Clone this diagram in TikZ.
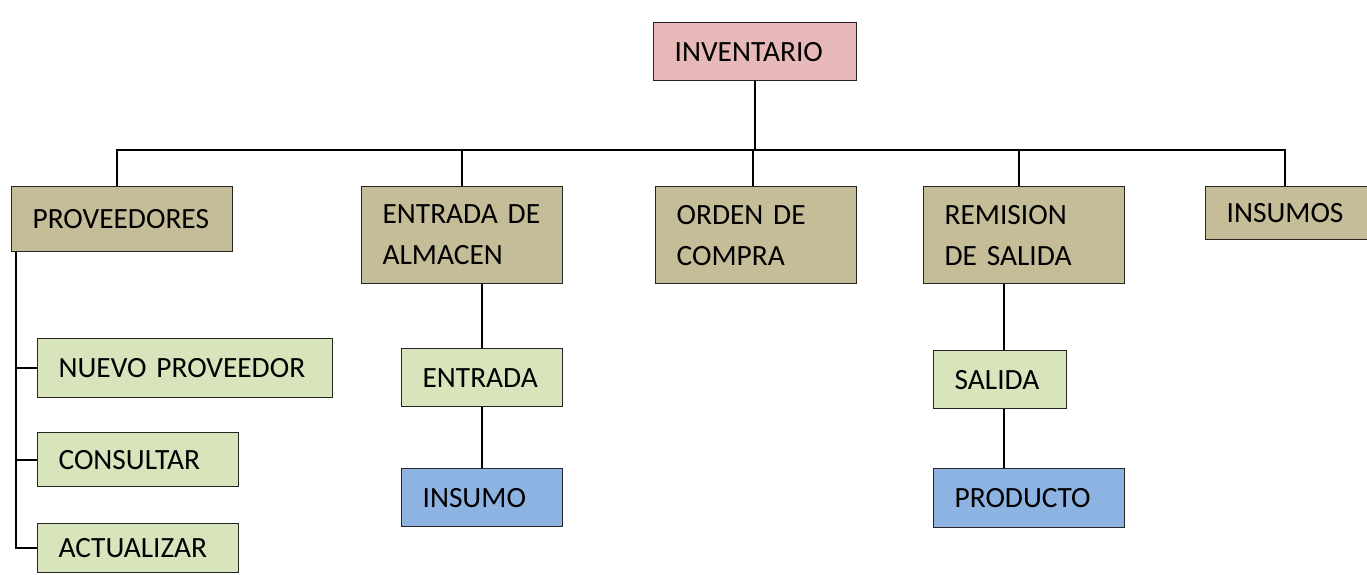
\documentclass[tikz,border=0pt]{standalone}
\usepackage{fontspec}
\setmainfont{Carlito}
\usetikzlibrary{positioning}

\definecolor{rootpink}{HTML}{E6B8B7}
\definecolor{grouptan}{HTML}{C4BD97}
\definecolor{leafgreen}{HTML}{D7E4BC}
\definecolor{itemblue}{HTML}{8DB3E2}

\begin{document}
\begin{tikzpicture}[x=0.5pt, y=-0.5pt, node/.style={rectangle, draw=black!85, line width=0.6pt, anchor=north west, inner xsep=10.5pt, inner ysep=0pt, align=left, font=\fontsize{14.7}{20.5}\selectfont}, root/.style={node, fill=rootpink}, group/.style={node, fill=grouptan}, leaf/.style={node, fill=leafgreen}, item/.style={node, fill=itemblue}, link/.style={line width=0.9pt}]
      \useasboundingbox (0,0) rectangle (1367,574);

      \node [root, text width=80.5pt, minimum height=29pt] (inv) at (653,22) {INVENTARIO};

      \node [group, text width=89.5pt, minimum height=32.5pt] (prov) at (11,186) {PROVEEDORES};

      \node [group, text width=79.5pt, minimum height=48.5pt] (almacen) at (361,186) {ENTRADA DE\\ALMACEN};

      \node [group, text width=79.5pt, minimum height=48.5pt] (orden) at (655,186) {ORDEN DE\\COMPRA};

      \node [group, text width=79.5pt, minimum height=48.5pt] (remision) at (923,186) {REMISION\\DE SALIDA};

      \node [group, text width=60pt, minimum height=26.5pt] (insumos) at (1205,186) {INSUMOS};

      \node [leaf, text width=126.5pt, minimum height=29.5pt] (nuevo) at (37,338) {NUEVO PROVEEDOR};

      \node [leaf, text width=79.5pt, minimum height=27pt] (consultar) at (37,432) {CONSULTAR};

      \node [leaf, text width=79.5pt, minimum height=24.5pt] (actualizar) at (37,523) {ACTUALIZAR};

      \node [leaf, text width=59.5pt, minimum height=29pt] (entrada) at (401,348) {ENTRADA};

      \node [item, text width=59.5pt, minimum height=29pt] (insumo) at (401,468) {INSUMO};

      \node [leaf, text width=45.5pt, minimum height=29pt] (salida) at (933,350) {SALIDA};

      \node [item, text width=74.5pt, minimum height=29.5pt] (producto) at (933,468) {PRODUCTO};

      \foreach \child/\dx in {prov/-2.5, almacen/0, orden/-1.5, remision/-2.5, insumos/-1}
        \draw [link] (inv.south) -- ++(0,69) -| ([xshift=\dx pt]\child.north);

      \foreach \child in {nuevo, consultar, actualizar}
        \draw [link] ([xshift=2.5pt]prov.south west) |- (\child.west);

      \path[link] (entrada.north) edge (entrada.north |- almacen.south);

      \path[link] (entrada) edge (insumo);

      \path[link] ([xshift=2pt]salida.north) edge ([xshift=2pt]salida.north |- remision.south);

      \path[link] ([xshift=2pt]salida.south) edge ([xshift=2pt]salida.south |- producto.north);
    \end{tikzpicture}
\end{document}
